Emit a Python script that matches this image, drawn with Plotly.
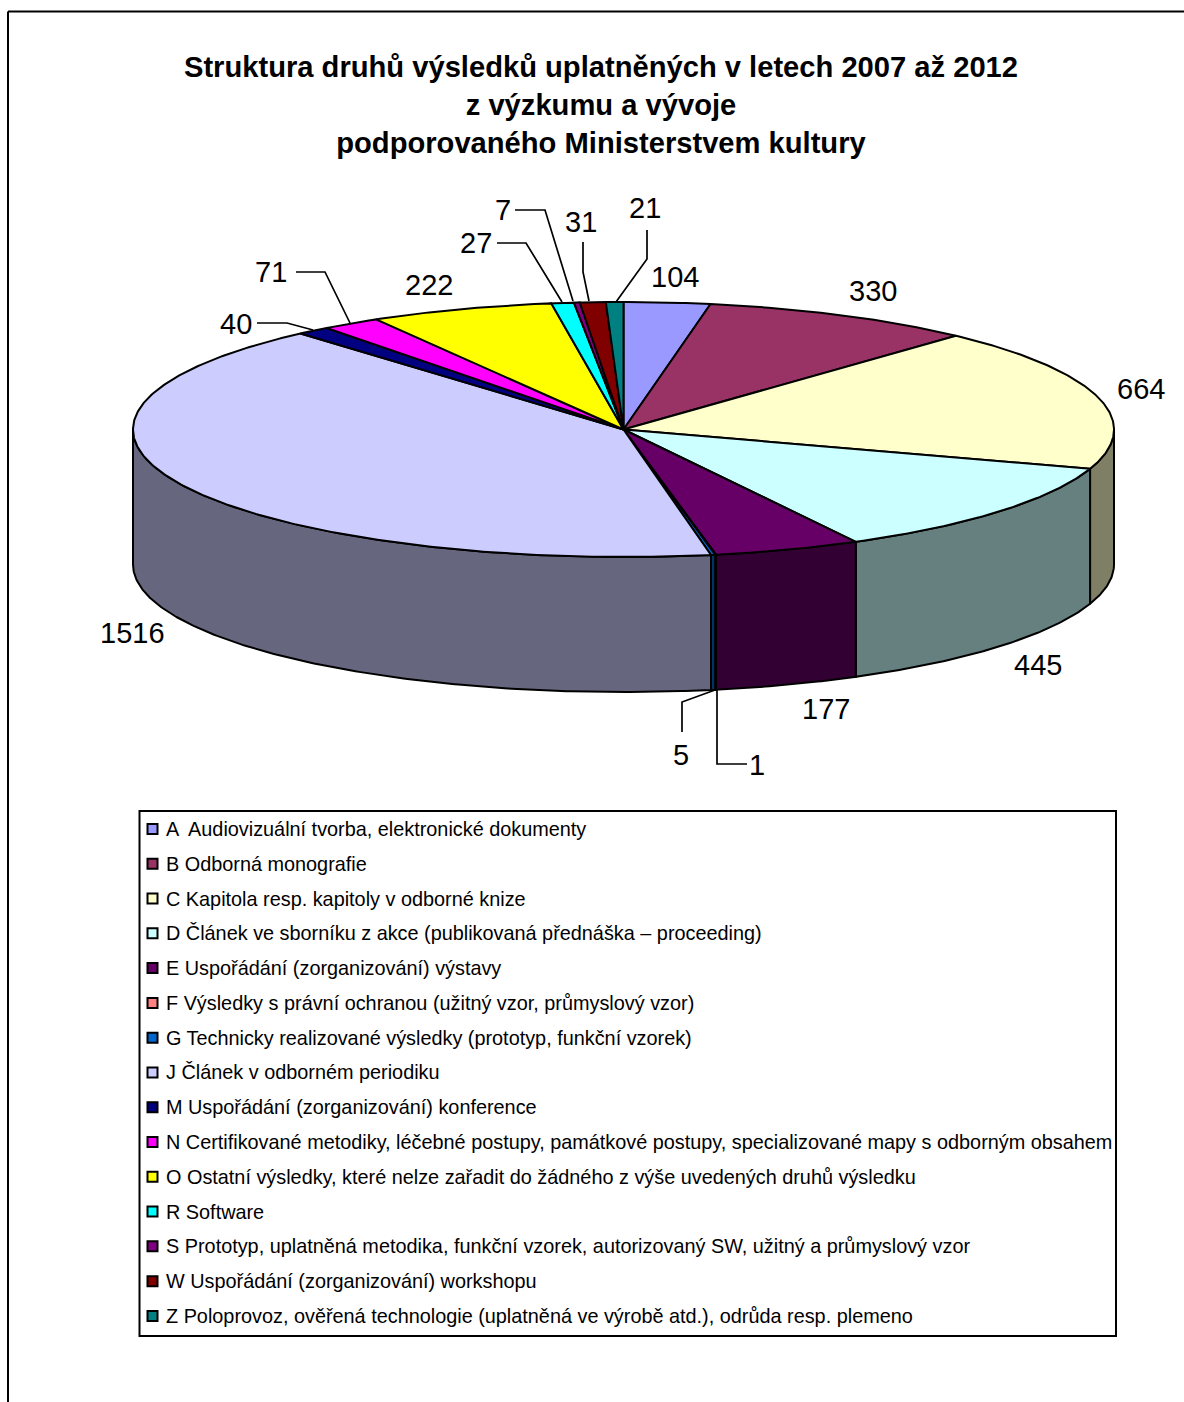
import math
import plotly.graph_objects as go

categories = [
    "A  Audiovizuální tvorba, elektronické dokumenty",
    "B Odborná monografie",
    "C Kapitola resp. kapitoly v odborné knize",
    "D Článek ve sborníku z akce (publikovaná přednáška – proceeding)",
    "E Uspořádání (zorganizování) výstavy",
    "F Výsledky s právní ochranou (užitný vzor, průmyslový vzor)",
    "G Technicky realizované výsledky (prototyp, funkční vzorek)",
    "J Článek v odborném periodiku",
    "M Uspořádání (zorganizování) konference",
    "N Certifikované metodiky, léčebné postupy, památkové postupy, specializované mapy s odborným obsahem",
    "O Ostatní výsledky, které nelze zařadit do žádného z výše uvedených druhů výsledku",
    "R Software",
    "S Prototyp, uplatněná metodika, funkční vzorek, autorizovaný SW, užitný a průmyslový vzor",
    "W Uspořádání (zorganizování) workshopu",
    "Z Poloprovoz, ověřená technologie (uplatněná ve výrobě atd.), odrůda resp. plemeno",
]
values = [104, 330, 664, 445, 177, 1, 5, 1516, 40, 71, 222, 27, 7, 31, 21]
colors = ["#9999FF", "#993366", "#FFFFCC", "#CCFFFF", "#660066", "#FF8080", "#0066CC", "#CCCCFF",
          "#000080", "#FF00FF", "#FFFF00", "#00FFFF", "#800080", "#800000", "#008080"]
title_text = ("Struktura druhů výsledků uplatněných v letech 2007 až 2012<br>"
              "z výzkumu a vývoje<br>podporovaného Ministerstvem kultury")

# layout constants (page pixels)
CX, CY, RX, RY, DEPTH = 623.5, 429.5, 490.5, 127.5, 135
LABEL_POS = [(675, 277), (873, 291), (1141, 389), (1038, 665), (826, 709), (757, 765), (681, 755),
             (132, 633), (236, 324), (271, 272), (429, 285), (476, 243), (503, 210), (581, 222), (645, 208)]
LEADERS = [
    [(497, 243), (526, 243), (562, 302)],
    [(515, 210), (545, 210), (573, 301)],
    [(583, 242), (583, 272), (589, 301)],
    [(647, 230), (647, 259), (616, 302)],
    [(682, 732), (682, 702), (715, 690)],
    [(717, 690), (717, 764), (747, 764)],
    [(296, 272), (325, 272), (350, 323)],
    [(257, 323), (287, 323), (313, 330)],
]
LEG_X0, LEG_X1, LEG_Y0, LEG_Y1 = 139.5, 1116, 811, 1336
LEG_FIRST, LEG_STEP = 829, 34.78


def pt(a, dy=0.0):
    r = math.radians(a)
    return CX + RX * math.sin(r), CY - RY * math.cos(r) + dy


def arc(a0, a1, dy=0.0):
    n = max(2, int(abs(a1 - a0) * 2) + 2)
    return [pt(a0 + (a1 - a0) * i / (n - 1), dy) for i in range(n)]


def darker(c):
    return "#" + "".join(f"{int(c[i:i+2], 16) // 2:02X}" for i in (1, 3, 5))


total = sum(values)
bounds = [0.0]
for v in values:
    bounds.append(bounds[-1] + v / total * 360)

fig = go.Figure()
# side walls (front half of the cylinder only)
for i, (name, c) in enumerate(zip(categories, colors)):
    a0, a1 = max(bounds[i], 90), min(bounds[i + 1], 270)
    if a1 <= a0:
        continue
    poly = arc(a0, a1) + arc(a1, a0, DEPTH)
    poly.append(poly[0])
    fig.add_trace(go.Scatter(x=[p[0] for p in poly], y=[p[1] for p in poly], mode="lines", fill="toself",
                             fillcolor=darker(c), line=dict(color="black", width=2),
                             hoverinfo="skip", showlegend=False))
# top faces
for i, (name, v, c) in enumerate(zip(categories, values, colors)):
    poly = [(CX, CY)] + arc(bounds[i], bounds[i + 1]) + [(CX, CY)]
    fig.add_trace(go.Scatter(x=[p[0] for p in poly], y=[p[1] for p in poly], mode="lines", fill="toself",
                             fillcolor=c, line=dict(color="black", width=2), name=name,
                             text=f"{name}: {v}", hoverinfo="text", showlegend=False))

# legend swatches
leg_y = [LEG_FIRST + i * LEG_STEP for i in range(len(categories))]
fig.add_trace(go.Scatter(x=[152.5] * len(categories), y=leg_y, mode="markers",
                         marker=dict(symbol="square", size=10, color=colors, line=dict(color="black", width=2)),
                         hoverinfo="skip", showlegend=False))

ann = []
for (x, y), v in zip(LABEL_POS, values):
    ann.append(dict(x=x, y=y, text=str(v), showarrow=False, xanchor="center", yanchor="middle",
                    font=dict(size=29, color="black")))
for name, y in zip(categories, leg_y):
    ann.append(dict(x=164, y=y, text=name, showarrow=False, xanchor="left", yanchor="middle",
                    font=dict(size=19.85, color="black")))

shapes = [
    dict(type="rect", x0=LEG_X0, x1=LEG_X1, y0=LEG_Y0, y1=LEG_Y1, line=dict(color="black", width=2), layer="below"),
    dict(type="line", x0=8, x1=1184, y0=11.5, y1=11.5, line=dict(color="black", width=2)),
    dict(type="line", x0=8, x1=8, y0=11.5, y1=1402, line=dict(color="black", width=2)),
]
for pts in LEADERS:
    path = "M " + " L ".join(f"{x},{y}" for x, y in pts)
    shapes.append(dict(type="path", path=path, line=dict(color="black", width=1.7)))

fig.update_layout(
    width=1184, height=1402, margin=dict(l=0, r=0, t=0, b=0),
    paper_bgcolor="white", plot_bgcolor="white", showlegend=False,
    font=dict(family="Liberation Sans, Arial, sans-serif", color="black"),
    title=dict(text=title_text, x=601 / 1184, xanchor="center", y=1 - 77 / 1402, yanchor="middle",
               font=dict(size=29.15, color="black", weight="bold")),
    xaxis=dict(range=[0, 1184], visible=False, fixedrange=True),
    yaxis=dict(range=[1402, 0], visible=False, fixedrange=True),
    annotations=ann, shapes=shapes,
)
fig.write_html("out.html", config={"displayModeBar": False},
               post_script="document.body.style.margin='0';document.body.style.overflow='hidden';")
